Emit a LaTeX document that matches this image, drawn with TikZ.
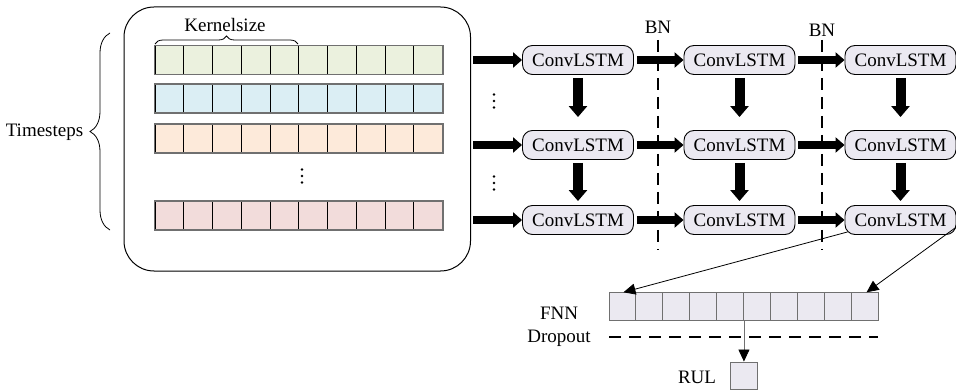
\documentclass[tikz,border=0pt]{standalone}
\usepackage{fontspec}
\setmainfont{Liberation Serif}
\usetikzlibrary{arrows.meta,decorations.pathreplacing,calc}
\definecolor{cgreen}{HTML}{EBF1DE}
\definecolor{cblue}{HTML}{DBEEF4}
\definecolor{corange}{HTML}{FDEADA}
\definecolor{cpink}{HTML}{F2DCDB}
\definecolor{clav}{HTML}{EBE9F1}
\definecolor{cgray}{HTML}{707070}
\tikzset{
  txt/.style={font=\fontsize{19}{22}\selectfont, inner sep=0pt},
  lstm/.style={txt, draw=black, line width=0.9pt, fill=clav, rounded corners=10pt,
    minimum width=111pt, minimum height=29pt},
  incell/.style={draw=black, line width=0.8pt, minimum width=28.75pt, minimum height=28.5pt, inner sep=0pt},
  fcell/.style={draw=cgray, line width=0.9pt, fill=clav, minimum width=26.9pt, minimum height=27.5pt, inner sep=0pt},
  bigarrow/.style={line width=8pt, -{Triangle[length=9pt,width=15pt]}},
  vertarrow/.style={line width=10pt, -{Triangle[length=11pt,width=18pt]}},
  thinarrow/.style={line width=0.8pt, -{Triangle[length=12pt,width=11pt,color=black,fill=black]}},
  bndash/.style={line width=1.5pt, dash pattern=on 12pt off 7pt},
  dotsv/.pic={\foreach \k in {-6.5,0,6.5}{\fill (0,\k) circle (1.4pt);}},
}
\begin{document}
\begin{tikzpicture}[x=1pt,y=-1pt]
\useasboundingbox (0,0) rectangle (956,390);
% outer box
\draw[line width=1pt, rounded corners=30pt] (124,7) rectangle (470.5,271);
\coordinate (boxE) at (473,0);
% input rows
\foreach \r/\y/\c in {1/60/cgreen,2/98.5/cblue,3/138.5/corange,4/215.5/cpink}{
  \foreach \i in {1,...,10}{
    \node[incell, fill=\c] (r\r c\i) at ({155+28.75*(\i-0.5)},\y) {};
  }
  \draw[cgray, line width=1.4pt] (r\r c1.north west) rectangle (r\r c10.south east);
}
\pic at (302,176) {dotsv};
% kernelsize brace
\draw[line width=0.8pt, decorate, decoration={brace, amplitude=8pt}] (155,44) -- (298,44);
\node[txt, anchor=base] (ks) at (225,32) {Kernelsize};
% timesteps brace
\draw[line width=0.8pt, decorate, decoration={brace, amplitude=20pt}] (110,230) -- (110,33);
\node[txt, anchor=base] (ts) at (44.5,137) {Timesteps};
% ConvLSTM grid
\foreach \r/\y in {1/60,2/145,3/220}{
  \foreach \c/\x in {1/578,2/739.5,3/900.5}{
    \node[lstm] (n\r\c) at (\x,\y) {ConvLSTM};
  }
}
% horizontal big arrows
\foreach \r in {1,2,3}{
  \draw[bigarrow] (boxE |- n\r1.west) -- (n\r1.west);
  \draw[bigarrow] ([xshift=3pt]n\r1.east) -- (n\r2.west);
  \draw[bigarrow] ([xshift=3pt]n\r2.east) -- (n\r3.west);
}
% vertical arrows
\foreach \c in {1,2,3}{
  \draw[vertarrow] ([yshift=-3pt]n1\c.south) -- ([yshift=13pt]n2\c.north);
  \draw[vertarrow] ([yshift=-3pt]n2\c.south) -- ([yshift=4pt]n3\c.north);
}
\pic at (494,101) {dotsv};
\pic at (494,183) {dotsv};
% BN dashed lines
\coordinate (bn1t) at (658,40); \coordinate (bn1b) at (658,250);
\coordinate (bn2t) at (822,40); \coordinate (bn2b) at (822,250);
\draw[bndash] (bn1t) -- (bn1b);
\draw[bndash] (bn2t) -- (bn2b);
\node[txt, anchor=base] (bnl1) at (658,34) {BN};
\node[txt, anchor=base] (bnl2) at (822,37) {BN};
% FNN
\foreach \i in {1,...,10}{
  \node[fcell] (f\i) at ({609+26.9*(\i-0.5)},306.5) {};
}
\node[txt, anchor=base] (fnn) at (559,319) {FNN};
\node[txt, anchor=base] (drop) at (559,342.5) {Dropout};
\draw[line width=1.5pt, dash pattern=on 12pt off 8pt] (609,337) -- (878,337);
% RUL
\node[fcell, minimum width=27pt, minimum height=27pt] (rul) at (743.5,375.5) {};
\node[txt, anchor=base] (rull) at (697,383) {RUL};
\draw[thinarrow, draw=cgray] (f5.south east) -- (f5.south east |- rul.north);
% thin arrows to FNN
\draw[thinarrow] ([shift={(3pt,3pt)}]n33.south west) -- ([xshift=1pt]f1.north);
\draw[thinarrow] ([yshift=8pt]n33.south east) -- ([xshift=2pt]f10.north);
\end{tikzpicture}
\end{document}
